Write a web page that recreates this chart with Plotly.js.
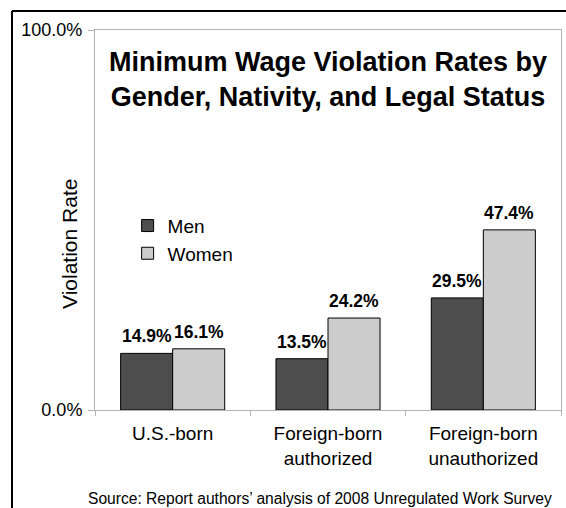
<!DOCTYPE html>
<html>
<head>
<meta charset="utf-8">
<script src="https://cdn.plot.ly/plotly-3.0.1.min.js"></script>
<style>html,body{margin:0;padding:0;background:#fff;}#chart{width:566px;height:508px;}</style>
</head>
<body>
<div id="chart"></div>
<script>
const categories = ["U.S.-born", "Foreign-born<br>authorized", "Foreign-born<br>unauthorized"];
const men = [14.9, 13.5, 29.5];
const women = [16.1, 24.2, 47.4];
const seriesNames = ["Men", "Women"];
const yTickVals = [0, 100];
const yTickText = ["0.0%", "100.0%"];

const F = "Liberation Sans, Arial, sans-serif";

const traces = [
  {type: "bar", name: seriesNames[0], x: categories, y: men,
   marker: {color: "#4d4d4d", line: {color: "#000", width: 1}}, hoverinfo: "none"},
  {type: "bar", name: seriesNames[1], x: categories, y: women,
   marker: {color: "#cccccc", line: {color: "#000", width: 1}}, hoverinfo: "none"}
];

const barHalf = 26;
const annotations = [];
[men, women].forEach((vals, si) => {
  vals.forEach((v, i) => {
    annotations.push({x: categories[i], y: v, xref: "x", yref: "y",
      text: "<b>" + v.toFixed(1) + "%</b>", showarrow: false, yanchor: "bottom",
      xshift: si === 0 ? -barHalf : barHalf, yshift: 5,
      font: {family: F, size: 17.5, color: "#000"}});
  });
});
annotations.push({x: 0.5, y: 0.871, xref: "paper", yref: "paper", showarrow: false,
  xanchor: "center", yanchor: "middle",
  text: "<b>Minimum Wage Violation Rates by<br>Gender, Nativity, and Legal Status</b>",
  font: {family: F, size: 27, color: "#000"}, align: "center"});
annotations.push({x: 0.483, y: -0.2316, xref: "paper", yref: "paper", showarrow: false,
  xanchor: "center", yanchor: "middle",
  text: "Source: Report authors\u2019 analysis of 2008 Unregulated Work Survey",
  font: {family: F, size: 15.6, color: "#000"}});
annotations.push({x: -0.0536, y: 0.437, xref: "paper", yref: "paper", showarrow: false,
  xanchor: "center", yanchor: "middle",
  text: "Violation Rate", textangle: -90,
  font: {family: F, size: 21, color: "#000"}});

const layout = {
  width: 566, height: 508,
  margin: {l: 95, r: 5, t: 30, b: 98},
  paper_bgcolor: "#fff", plot_bgcolor: "#fff",
  barmode: "group", bargap: 0.33, bargroupgap: 0,
  showlegend: true,
  legend: {x: 0.07, y: 0.535, xanchor: "left", yanchor: "top",
    font: {family: F, size: 19, color: "#000"}, bgcolor: "rgba(0,0,0,0)", tracegroupgap: 0},
  xaxis: {type: "category", showline: true, linecolor: "#b3b3b3", linewidth: 1, mirror: true,
    ticks: "outside", tickson: "boundaries", ticklen: 5, tickcolor: "#b3b3b3",
    ticklabelstandoff: 6,
    tickfont: {family: F, size: 19, color: "#000"}, showgrid: false, fixedrange: true},
  yaxis: {range: [0, 100], tickvals: yTickVals, ticktext: yTickText,
    showline: true, linecolor: "#b3b3b3", linewidth: 1, mirror: true,
    ticks: "outside", ticklen: 6, tickcolor: "#b3b3b3", ticklabelstandoff: 2,
    tickfont: {family: F, size: 18, color: "#000"}, showgrid: false, zeroline: false,
    fixedrange: true},
  annotations: annotations,
  shapes: [
    {type: "line", xref: "paper", yref: "paper", x0: -0.1781, x1: 1.02, y0: 1.05, y1: 1.05, line: {color: "#000", width: 2}},
    {type: "line", xref: "paper", yref: "paper", x0: -0.1781, x1: -0.1781, y0: 1.05, y1: -0.27, line: {color: "#000", width: 2}}
  ]
};

Plotly.newPlot("chart", traces, layout, {displayModeBar: false, staticPlot: true});
</script>
</body>
</html>
